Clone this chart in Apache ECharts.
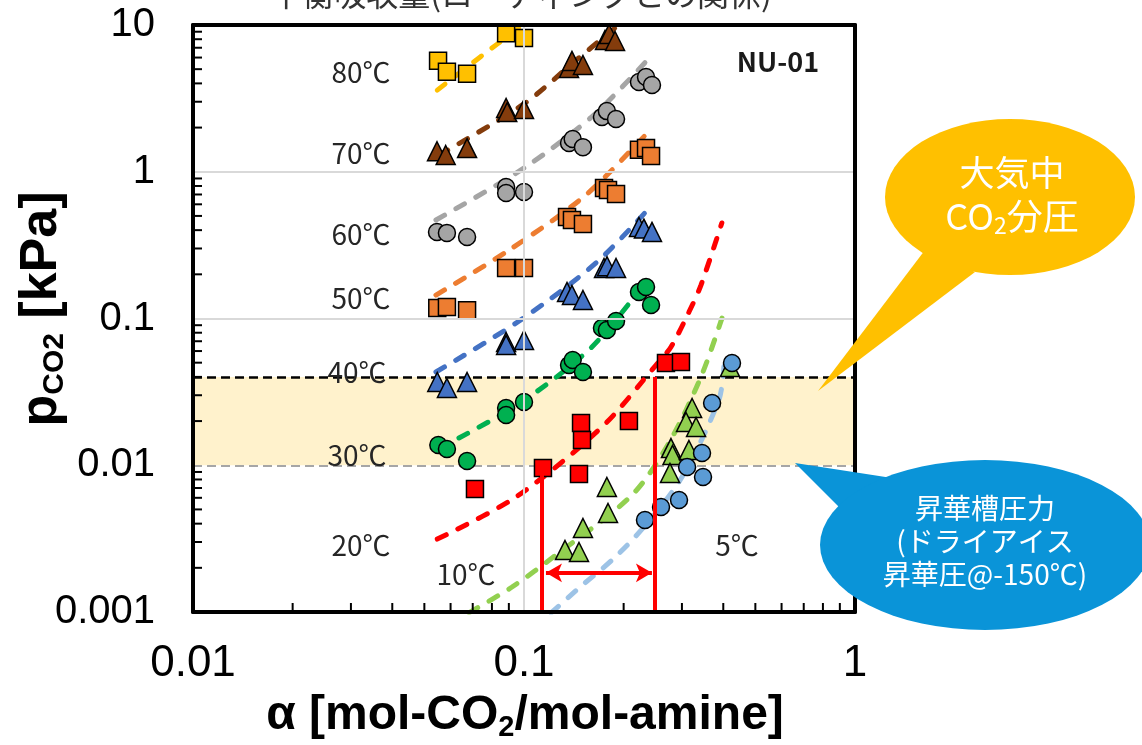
<!DOCTYPE html>
<html><head><meta charset="utf-8">
<script src="https://cdn.jsdelivr.net/npm/echarts@6/dist/echarts.min.js"></script>
<style>html,body{margin:0;padding:0;background:#fff}#c{width:1142px;height:745px}</style>
</head><body><div id="c"></div>
<script>
// ---- axis ticks ----
const xTickLabels = ['0.01', '0.1', '1'];
const yTickLabels = ['0.001', '0.01', '0.1', '1', '10'];
const xMinorTicks = [0.02,0.03,0.04,0.05,0.06,0.07,0.08,0.09,0.2,0.3,0.4,0.5,0.6,0.7,0.8,0.9];
const yMinorTicks = [0.002,0.003,0.004,0.005,0.006,0.007,0.008,0.009,0.02,0.03,0.04,0.05,0.06,0.07,0.08,0.09,
  0.2,0.3,0.4,0.5,0.6,0.7,0.8,0.9,2,3,4,5,6,7,8,9];

// ---- measured points (alpha, pCO2) ----
const a80 = [0.0550,0.0585,0.0673,0.0883,0.100];
const p80 = [5.7,4.8,4.65,8.8,8.15];
const a70 = [0.0546,0.0580,0.0673,0.0883,0.0890,0.100,0.1368,0.1396,0.1507,0.1757,0.1807,0.1884];
const p70 = [1.38,1.30,1.45,2.72,2.55,2.68,5.09,5.69,5.34,7.9,8.68,7.78];
const a60 = [0.0546,0.0585,0.0673,0.0883,0.0883,0.100,0.1368,0.1403,0.1507,0.172,0.178,0.1897,0.2225,0.2337,0.2436];
const p60 = [0.389,0.383,0.359,0.787,0.716,0.728,1.57,1.67,1.47,2.36,2.59,2.29,4.09,4.42,3.90];
const a50 = [0.0547,0.0585,0.0673,0.0883,0.100,0.1349,0.1396,0.1507,0.1745,0.1794,0.1897,0.2225,0.2337,0.242];
const p50 = [0.118,0.120,0.114,0.221,0.221,0.492,0.469,0.441,0.775,0.751,0.705,1.41,1.45,1.28];
const a40 = [0.0547,0.0585,0.0673,0.0883,0.0883,0.100,0.1349,0.1396,0.1507,0.1745,0.1782,0.1897,0.2225,0.2303,0.2436];
const p40 = [0.0369,0.0336,0.0369,0.0692,0.0660,0.0714,0.1516,0.1445,0.1337,0.221,0.227,0.221,0.420,0.41,0.389];
const a30 = [0.0551,0.0585,0.0673,0.0883,0.0883,0.100,0.1368,0.1403,0.1507,0.172,0.178,0.1897,0.2225,0.2337,0.242];
const p30 = [0.01374,0.01291,0.01069,0.02455,0.0220,0.0270,0.0482,0.0521,0.0432,0.0862,0.0835,0.0962,0.1516,0.164,0.1236];
const a20 = [0.0711,0.1141,0.1466,0.1487,0.1497,0.2075,0.2685,0.298];
const p20 = [0.00689,0.00958,0.00871,0.0194,0.01486,0.0200,0.0498,0.0505];
const a10 = [0.1330,0.1466,0.1507,0.1794,0.178,0.278,0.281,0.2761,0.315,0.322,0.3087,0.331,0.419];
const p10 = [0.002646,0.002564,0.003736,0.00473,0.00711,0.0131,0.01175,0.00886,0.0127,0.02455,0.0197,0.01823,0.0468];
const a5 = [0.232,0.2594,0.294,0.311,0.3474,0.345,0.37,0.425];
const p5 = [0.00424,0.0052,0.0058,0.00973,0.00832,0.01213,0.02656,0.0497];

// ---- model curves ----
const la80 = [0.0547,0.0731,0.098];           const lp80 = [3.6,5.96,9.84];
const la70 = [0.0554,0.100,0.1416,0.190];     const lp70 = [1.30,2.9,5.6,9.7];
const la60 = [0.0542,0.100,0.1627,0.2436];    const lp60 = [0.469,1.06,2.44,6.25];
const la50 = [0.0542,0.0902,0.1538,0.2436];   const lp50 = [0.1445,0.293,0.695,1.99];
const la40 = [0.0542,0.0967,0.165,0.2436];    const lp40 = [0.0432,0.0962,0.239,0.593];
const la30 = [0.0636,0.0986,0.1604,0.2385];   const lp30 = [0.01534,0.0270,0.0640,0.189];
const la20 = [0.0547,0.0946,0.172,0.2506,0.278,0.315,0.3425,0.396];
const lp20 = [0.00314,0.00608,0.01823,0.0482,0.0640,0.1107,0.169,0.4477];
const la10 = [0.0683,0.092,0.1249,0.212,0.274,0.3425,0.40];
const lp10 = [0.00099,0.00148,0.002445,0.00627,0.01418,0.04,0.107];
const la5 = [0.1207,0.1466,0.1845,0.2304,0.3001,0.388,0.402];
const lp5 = [0.000985,0.001458,0.00226,0.0038,0.00832,0.0279,0.0482];

// ---- reference levels & working range ----
const atmP = 0.04;     // 大気中CO2分圧
const sublP = 0.01;    // 昇華槽圧力
const bracketAlpha = [0.1133, 0.2487];
const bracketTopP = [0.0096, 0.04];
const arrowAlpha = [0.1165, 0.2435];
const arrowP = 0.00185;

const tempNames = ['80℃','70℃','60℃','50℃','40℃','30℃','20℃','10℃','5℃'];
const ptsA = [a80,a70,a60,a50,a40,a30,a20,a10,a5];
const ptsP = [p80,p70,p60,p50,p40,p30,p20,p10,p5];
const lnA = [la80,la70,la60,la50,la40,la30,la20,la10,la5];
const lnP = [lp80,lp70,lp60,lp50,lp40,lp30,lp20,lp10,lp5];

// styles
const markerColors = ['#FFC000','#843C0C','#A5A5A5','#ED7D31','#4472C4','#00B050','#FF0000','#92D050','#5B9BD5'];
const lineColors   = ['#FFC000','#843C0C','#A5A5A5','#ED7D31','#4472C4','#00B050','#FF0000','#92D050','#9DC3E6'];
const symbols = ['rect','triangle','circle','rect','triangle','circle','rect','triangle','circle'];
const symSizes = [17,19,17,17,19,17,17,19,17];

const zip = (a, b) => a.map((v, i) => [v, b[i]]);
const X_MIN = 0.01, X_MAX = 1, Y_MIN = 0.001, Y_MAX = 10;

const series = [];
series.push({
  type: 'line', data: [], silent: true,
  markArea: { silent: true, z: 1, itemStyle: { color: '#FFF2CC' }, data: [[{ yAxis: sublP }, { yAxis: atmP }]] },
  markLine: { silent: true, z: 2, symbol: ['none','none'], label: { show: false },
    data: [
      { yAxis: atmP, lineStyle: { color: '#000', width: 2.5, type: [9, 5] } },
      { yAxis: sublP, lineStyle: { color: '#A6A6A6', width: 2, type: [9, 5] } }
    ] }
});
tempNames.forEach((n, i) => {
  series.push({
    type: 'line', name: n + ' model', data: zip(lnA[i], lnP[i]), showSymbol: false, symbol: 'none',
    smooth: 0.3, clip: true, z: 3, silent: true,
    lineStyle: { color: lineColors[i], width: 5, type: [10, 13], cap: 'round' }
  });
});
tempNames.forEach((n, i) => {
  series.push({
    type: 'scatter', name: n, data: zip(ptsA[i], ptsP[i]), symbol: symbols[i], symbolSize: symSizes[i], z: 4,
    itemStyle: { color: markerColors[i], borderColor: '#000', borderWidth: 1.5, opacity: 1 }
  });
});
series.push({
  type: 'line', data: [], silent: true,
  markLine: { silent: true, z: 6, symbol: ['none','none'], label: { show: false },
    lineStyle: { color: '#FF0000', width: 4, type: 'solid' },
    data: [
      [{ coord: [bracketAlpha[0], Y_MIN] }, { coord: [bracketAlpha[0], bracketTopP[0]] }],
      [{ coord: [bracketAlpha[1], Y_MIN] }, { coord: [bracketAlpha[1], bracketTopP[1]] }],
      [{ coord: [arrowAlpha[0], arrowP], symbol: 'arrow', symbolSize: [14, 16] },
       { coord: [arrowAlpha[1], arrowP], symbol: 'arrow', symbolSize: [14, 16] }]
    ] }
});
// minor ticks
series.push({
  type: 'custom', silent: true, z: 7, data: xMinorTicks.map(v => [v, Y_MIN]),
  renderItem: (p, api) => { const c = api.coord([api.value(0), api.value(1)]);
    return { type: 'line', shape: { x1: c[0], y1: c[1], x2: c[0], y2: c[1] - 9 }, style: { stroke: '#000', lineWidth: 2 } }; }
});
series.push({
  type: 'custom', silent: true, z: 7, data: yMinorTicks.map(v => [X_MIN, v]),
  renderItem: (p, api) => { const c = api.coord([api.value(0), api.value(1)]);
    return { type: 'line', shape: { x1: c[0], y1: c[1], x2: c[0] + 9, y2: c[1] }, style: { stroke: '#000', lineWidth: 2 } }; }
});

const cjk = "'Noto Sans CJK JP', 'Noto Sans', sans-serif";
const txt = (t, x, y, size, extra) => Object.assign({ type: 'text', x, y, z: 50,
  style: Object.assign({ text: t, fontSize: size, fontFamily: cjk, fill: '#262626', align: 'center', verticalAlign: 'middle' }, extra || {}) });

const tempLabelPos = [[361,72],[361,153],[361,234],[361,298],[357,372],[357,455],[361,545],[466,574],[737,545]];
const graphic = [];
graphic.push(txt('平衡吸収量(ローディングとの関係)', 521, -6, 32, { fill: '#333' }));
tempNames.forEach((n, i) => graphic.push(txt(n, tempLabelPos[i][0], tempLabelPos[i][1], 28)));
graphic.push(txt('NU-01', 778, 62, 27, { fontWeight: 'bold', fill: '#1a1a1a' }));
// axis titles
graphic.push({ type: 'text', x: 525, y: 716, z: 50, style: {
  text: '{a|α [mol-CO}{s|2}{a|/mol-amine]}', align: 'center', verticalAlign: 'middle',
  rich: { a: { fontSize: 48, fontWeight: 'bold', fontFamily: 'Liberation Sans, Arial, sans-serif', fill: '#000', lineHeight: 52 },
          s: { fontSize: 29, fontWeight: 'bold', fontFamily: 'Liberation Sans, Arial, sans-serif', fill: '#000', lineHeight: 14, verticalAlign: 'bottom' } } } });
graphic.push({ type: 'text', x: 42, y: 309, rotation: Math.PI / 2, z: 50, style: {
  text: '{a|p}{s|CO2}{a| [kPa]}', align: 'center', verticalAlign: 'middle',
  rich: { a: { fontSize: 52, fontWeight: 'bold', fontFamily: 'Liberation Sans, Arial, sans-serif', fill: '#000', lineHeight: 56 },
          s: { fontSize: 30, fontWeight: 'bold', fontFamily: 'Liberation Sans, Arial, sans-serif', fill: '#000', lineHeight: 18, verticalAlign: 'bottom' } } } });
// yellow callout
graphic.push({ type: 'polygon', z: 60, shape: { points: [[925,250],[975,272],[818,391]] }, style: { fill: '#FFC000' } });
graphic.push({ type: 'circle', z: 60, x: 1010, y: 197, scaleX: 125 / 78, shape: { cx: 0, cy: 0, r: 78 }, style: { fill: '#FFC000' } });
graphic.push(Object.assign(txt('大気中', 1012, 173, 35, { fill: '#fff' }), { z: 61 }));
graphic.push({ type: 'text', x: 1012, y: 216, z: 61, style: {
  text: '{a|CO}{s|2}{a|分圧}', align: 'center', verticalAlign: 'middle',
  rich: { a: { fontSize: 36, fontFamily: cjk, fill: '#fff', lineHeight: 42 },
          s: { fontSize: 23, fontFamily: cjk, fill: '#fff', lineHeight: 14, verticalAlign: 'bottom' } } } });
// blue callout
graphic.push({ type: 'polygon', z: 60, shape: { points: [[795,463],[892,478],[850,518]] }, style: { fill: '#0A94D8' } });
graphic.push({ type: 'circle', z: 60, x: 985, y: 545, scaleX: 165 / 85, shape: { cx: 0, cy: 0, r: 85 }, style: { fill: '#0A94D8' } });
graphic.push(Object.assign(txt('昇華槽圧力\n(ドライアイス\n昇華圧@-150℃)', 985, 541, 28, { fill: '#fff', lineHeight: 33 }), { z: 61 }));

const frameAxis = { axisLine: { show: true, lineStyle: { color: '#000', width: 4 } }, axisTick: { show: false },
  axisLabel: { show: false }, splitLine: { show: false }, minorTick: { show: false } };

const chart = echarts.init(document.getElementById('c'), null, { renderer: 'canvas' });
chart.setOption({
  animation: false,
  backgroundColor: '#fff',
  grid: { left: 193, right: 287, top: 25, bottom: 133, show: false },
  xAxis: [{ type: 'log', logBase: 10, min: X_MIN, max: X_MAX, position: 'bottom', z: 8,
    axisLine: { show: true, onZero: false, lineStyle: { color: '#000', width: 4 } }, axisTick: { show: false }, minorTick: { show: false },
    splitLine: { show: true, lineStyle: { color: '#D9D9D9', width: 2 } },
    axisLabel: { margin: 30, fontSize: 44, color: '#000', fontFamily: "'Liberation Sans Narrow', 'Arial Narrow', 'Liberation Sans', sans-serif",
      formatter: v => xTickLabels[Math.round(Math.log10(v) - Math.log10(X_MIN))] } },
    Object.assign({ type: 'log', logBase: 10, min: X_MIN, max: X_MAX, position: 'top', z: 8 }, frameAxis)],
  yAxis: [{ type: 'log', logBase: 10, min: Y_MIN, max: Y_MAX, position: 'left', z: 8,
    axisLine: { show: true, onZero: false, lineStyle: { color: '#000', width: 4 } }, axisTick: { show: false }, minorTick: { show: false },
    splitLine: { show: true, lineStyle: { color: ['#D9D9D9','transparent','#D9D9D9','#D9D9D9','#D9D9D9'], width: 2 } },
    axisLabel: { margin: 38, fontSize: 40, color: '#000', fontFamily: "'Liberation Sans', Arial, sans-serif",
      formatter: v => yTickLabels[Math.round(Math.log10(v) - Math.log10(Y_MIN))] } },
    Object.assign({ type: 'log', logBase: 10, min: Y_MIN, max: Y_MAX, position: 'right', z: 8 }, frameAxis)],
  series,
  graphic
});
</script></body></html>
